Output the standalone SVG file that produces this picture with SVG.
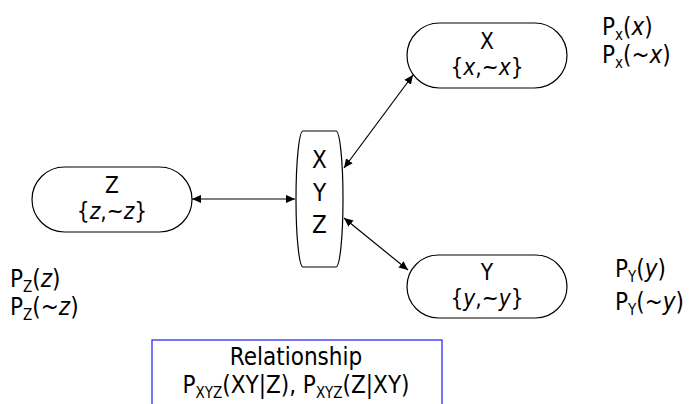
<svg xmlns="http://www.w3.org/2000/svg" width="695" height="404" viewBox="0 0 695 404">
<defs>
<marker id="ah" viewBox="0 0 10 10" refX="10" refY="5" markerWidth="9" markerHeight="9" markerUnits="userSpaceOnUse" orient="auto-start-reverse">
<path d="M0,0.5 L10,5 L0,9.5 Z" fill="#000"/>
</marker>
<style>
text{font-family:"DejaVu Sans Condensed","DejaVu Sans",sans-serif;font-stretch:condensed;font-size:24px;fill:#000}
.c{text-anchor:middle}
.n{font-size:22.5px}
.node{fill:#fff;stroke:#000;stroke-width:1.2}
.sub{font-size:15px}
.it{font-style:italic}
.conn{stroke:#000;stroke-width:1.2;fill:none;marker-start:url(#ah);marker-end:url(#ah)}
</style>
</defs>
<rect width="695" height="404" fill="#fff"/>
<g id="connectors">
<line class="conn" x1="192" y1="199" x2="295" y2="199"/>
<line class="conn" x1="344" y1="168" x2="413" y2="75"/>
<line class="conn" x1="344" y1="218" x2="408" y2="270"/>
</g>
<g id="node-X">
<rect class="node" x="407" y="23" width="160" height="65" rx="32.5"/>
<text class="c n" x="487" y="49">X</text>
<text class="c n" x="487" y="75">{<tspan class="it">x</tspan>,~<tspan class="it">x</tspan>}</text>
</g>
<g id="node-Z">
<rect class="node" x="32" y="167" width="160" height="65" rx="32.5"/>
<text class="c n" x="112" y="193">Z</text>
<text class="c n" x="112" y="219">{<tspan class="it">z</tspan>,~<tspan class="it">z</tspan>}</text>
</g>
<g id="node-Y">
<rect class="node" x="407" y="255" width="160" height="63" rx="31.5"/>
<text class="c n" x="487" y="280">Y</text>
<text class="c n" x="487" y="306">{<tspan class="it">y</tspan>,~<tspan class="it">y</tspan>}</text>
</g>
<g id="node-XYZ">
<rect class="node" x="296" y="131" width="47" height="136" rx="7" ry="68"/>
<text class="c" x="319.5" y="168">X</text>
<text class="c" x="319.5" y="201">Y</text>
<text class="c" x="319.5" y="233">Z</text>
</g>
<g id="label-X">
<text x="602" y="35">P<tspan class="sub" dy="5">x</tspan><tspan dy="-5">(</tspan><tspan class="it">x</tspan>)</text>
<text x="602" y="63">P<tspan class="sub" dy="5">x</tspan><tspan dy="-5">(~</tspan><tspan class="it">x</tspan>)</text>
</g>
<g id="label-Y">
<text x="615" y="277">P<tspan class="sub" dy="5">Y</tspan><tspan dy="-5">(</tspan><tspan class="it">y</tspan>)</text>
<text x="615" y="310">P<tspan class="sub" dy="5">Y</tspan><tspan dy="-5">(~</tspan><tspan class="it">y</tspan>)</text>
</g>
<g id="label-Z">
<text x="10" y="287">P<tspan class="sub" dy="5">Z</tspan><tspan dy="-5">(</tspan><tspan class="it">z</tspan>)</text>
<text x="10" y="315">P<tspan class="sub" dy="5">Z</tspan><tspan dy="-5">(~</tspan><tspan class="it">z</tspan>)</text>
</g>
<g id="relationship">
<rect x="152" y="340" width="290" height="80" fill="#fff" stroke="#1c1cf0" stroke-width="1.2"/>
<text class="c" x="296" y="365">Relationship</text>
<text class="c" x="296" y="393">P<tspan class="sub" dy="5">XYZ</tspan><tspan dy="-5">(XY|Z), P</tspan><tspan class="sub" dy="5">XYZ</tspan><tspan dy="-5">(Z|XY)</tspan></text>
</g>
</svg>
